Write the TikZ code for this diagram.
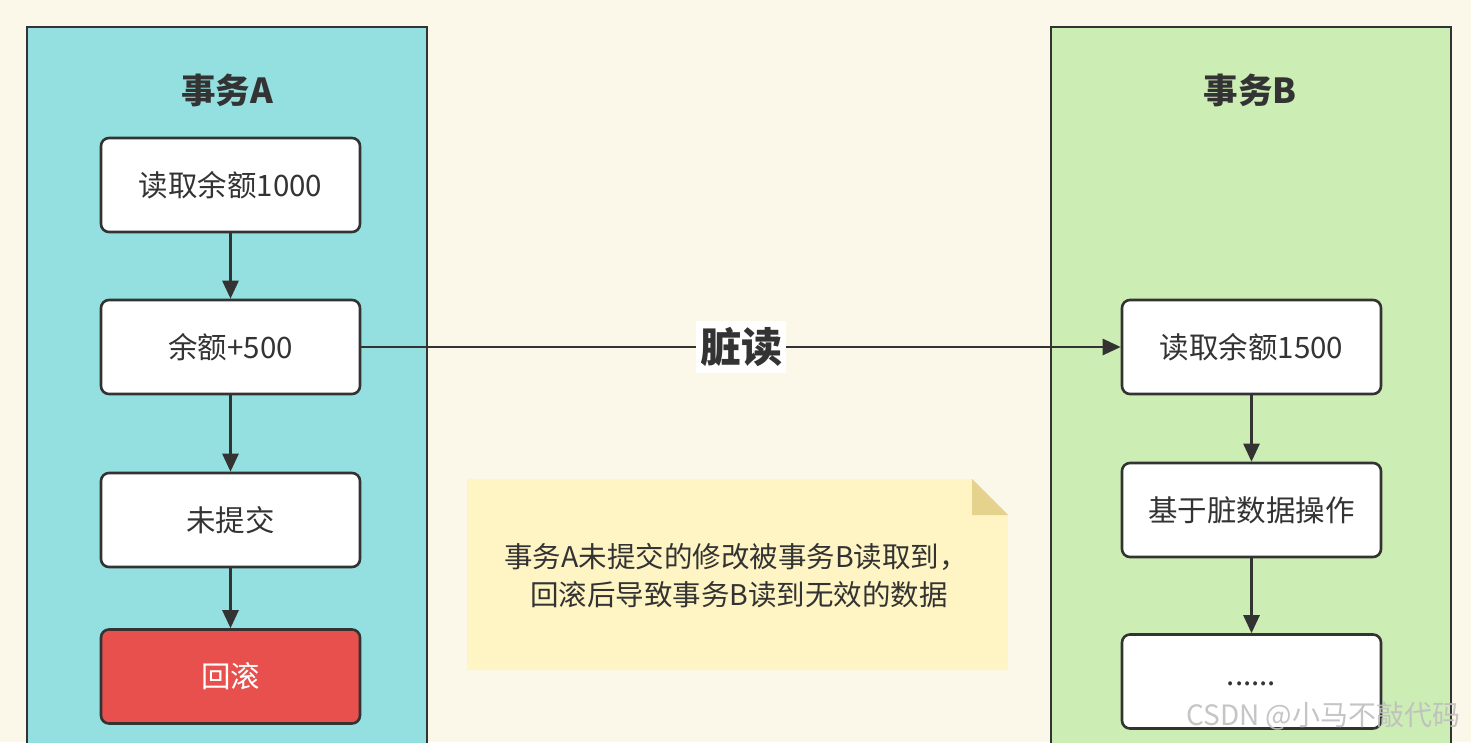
\documentclass[tikz,border=0pt]{standalone}
\usepackage{fontspec}
\setmainfont{Noto Sans CJK SC}
\newfontfamily\cjk{Noto Sans CJK SC}
\usetikzlibrary{arrows.meta}
\definecolor{bgc}{RGB}{252,248,233}
\definecolor{lanea}{RGB}{148,224,224}
\definecolor{laneb}{RGB}{204,237,180}
\definecolor{ink}{RGB}{51,51,51}
\definecolor{redbox}{RGB}{232,80,78}
\definecolor{notec}{RGB}{255,244,195}
\definecolor{foldc}{RGB}{229,210,140}
\tikzset{
  x=1pt,y=-1pt,
  lane/.style={draw=ink,line width=2.6pt},
  stepbox/.style={draw=ink,line width=2.6pt,rounded corners=8pt,fill=white,minimum width=259pt,minimum height=94pt,inner sep=0pt,font=\fontsize{29.5}{32}\selectfont,text=ink},
  title/.style={font=\fontsize{34.5}{38}\selectfont\bfseries,text=ink},
  flow/.style={draw=ink,line width=2.6pt,-{Triangle[length=18pt,width=16pt]}},
}
\begin{document}
\begin{tikzpicture}
\useasboundingbox (0,0) rectangle (1471,742);
\fill[bgc] (0,0) rectangle (1471,742);
% lanes
\draw[lane,fill=lanea] (27,760) -- (27,27) -- (427,27) -- (427,760);
\draw[lane,fill=laneb] (1051,760) -- (1051,27) -- (1451,27) -- (1451,760);
\node[title] (ta) at (227,90) {事务A};
\node[title] (tb) at (1250,90) {事务B};
% A boxes
\node[stepbox] (a1) at (230.5,185) {读取余额1000};
\node[stepbox] (a2) at (230.5,347) {余额+500};
\node[stepbox] (a3) at (230.5,520) {未提交};
\node[stepbox,fill=redbox,text=white] (a4) at (230.5,676.5) {回滚};
% B boxes
\node[stepbox] (b1) at (1251.5,347) {读取余额1500};
\node[stepbox] (b2) at (1251.5,510) {基于脏数据操作};
\node[stepbox] (b3) at (1251.5,681.5) {\raisebox{-8pt}{......}};
% arrows
\draw[flow] (a1) -- (a2);
\draw[flow] (a2) -- (a3);
\draw[flow] (a3) -- (a4);
\draw[flow] (b1) -- (b2);
\draw[flow] (b2) -- (b3);
\draw[flow] (a2) -- node[fill=white,inner xsep=4pt,inner ysep=6pt,font=\fontsize{41}{44}\selectfont\bfseries,text=ink,pos=0.5] (lbl) {脏读} (b1);
% note
\fill[notec] (467,479) -- (972,479) -- (1008,515) -- (1008,670) -- (467,670) -- cycle;
\fill[foldc] (972,479) -- (972,515) -- (1008,515) -- cycle;
\node[align=center,font=\fontsize{28.5}{38}\selectfont,text=ink] (nt) at (736,576) {事务A未提交的修改被事务B读取到，\\\hspace*{6pt}回滚后导致事务B读到无效的数据};
% watermark
\node[anchor=east,font=\fontsize{28}{30}\selectfont,text=black!25,opacity=0.9] (wm) at (1464,716) {CSDN @小马不敲代码};
\end{tikzpicture}
\end{document}
